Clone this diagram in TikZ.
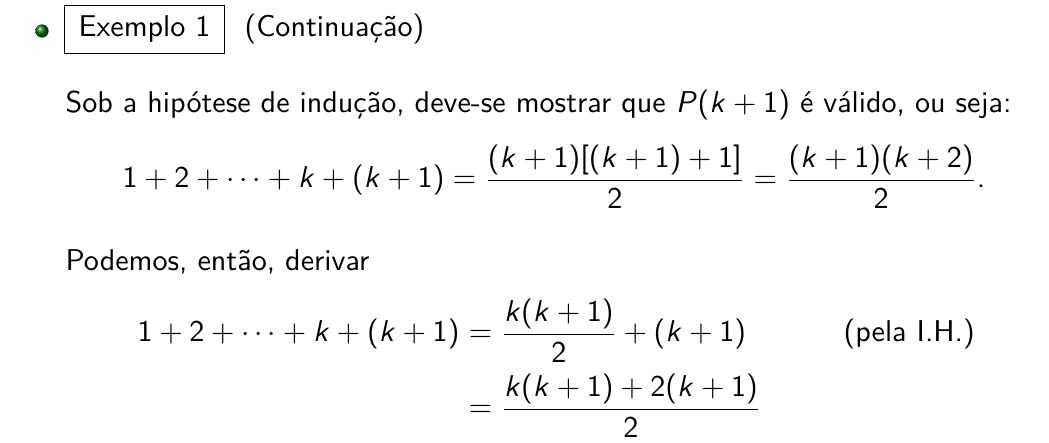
\documentclass[tikz,border=0pt]{standalone}
\usepackage{amsmath}
\usepackage{amssymb}
\renewcommand{\familydefault}{\sfdefault}
\DeclareMathVersion{sans}
\SetSymbolFont{operators}{sans}{OT1}{cmss}{m}{n}
\SetSymbolFont{letters}{sans}{OT1}{cmss}{m}{sl}
\SetSymbolFont{symbols}{sans}{OMS}{cmsy}{m}{n}
\SetMathAlphabet{\mathrm}{sans}{OT1}{cmss}{m}{n}
\mathcode`.="002E

\begin{document}
\mathversion{sans}
\begin{tikzpicture}[x=0.3472pt,y=-0.3472pt,
        every node/.style={inner sep=0pt,scale=0.954,font=\fontsize{10.95}{13.6}\selectfont},
        tekst/.style={anchor=base west},
        formula/.style={anchor=base west},
        naslov/.style={anchor=base west},
        okvir/.style={draw,thin,inner xsep=5.1pt,inner ysep=3.9pt}]
        \useasboundingbox (0,0) rectangle (1049,443);

        % naslov
        \shade[ball color=green!45!black] (42,31) circle (2.3pt);
        \node[naslov,okvir] (exm) at (64,37) {Exemplo 1};
        \node[naslov] (cont) at (244,37) {(Continuação)};

        \node[tekst] (hip) at (65,113) {Sob a hipótese de indução, deve-se mostrar que $P(k+1)$ é válido, ou seja:};
        \node[formula] (eq1) at (122,188) {$\displaystyle 1+2+\cdots+k+(k+1)=\frac{(k+1)[(k+1)+1]}{2}=\frac{(k+1)(k+2)}{2}.$};

        \node[tekst] (pod) at (65,271) {Podemos, então, derivar};

        % izvodjenje
        \node[formula] (lhs) at (137,342) {$1+2+\cdots+k+(k+1)$};
        \node[formula] (rhs1) at (lhs.base east) {$\displaystyle {}=\frac{k(k+1)}{2}+(k+1)$};
        \node[tekst] (ih) at (843,342) {(pela I.H.)};
        \node[formula] (rhs2) at (rhs1.west |- 0,417) {$\displaystyle {}=\frac{k(k+1)+2(k+1)}{2}$};
    \end{tikzpicture}
\end{document}
